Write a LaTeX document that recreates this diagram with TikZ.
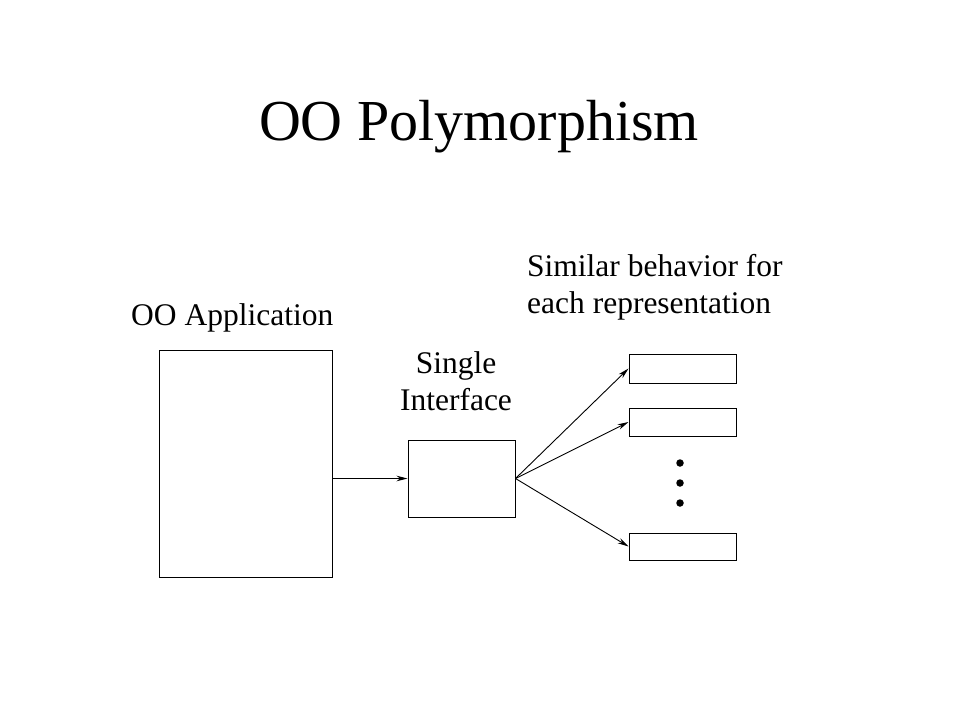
\documentclass[tikz,border=0pt]{standalone}
\usepackage{fontspec}
\setmainfont{Liberation Serif}
\usetikzlibrary{arrows.meta}
\begin{document}
\begin{tikzpicture}[x=1bp,y=-1bp,
  box/.style={draw,line width=1bp,inner sep=0pt},
  conn/.style={line width=0.9bp,-{Stealth[length=11bp,width=5.5bp]}},
  lbl/.style={inner sep=0pt,font=\fontsize{31.5bp}{37bp}\selectfont},
  dot/.style={circle,fill,inner sep=0pt,minimum size=7.5bp}]
\useasboundingbox[fill=white] (0,0) rectangle (960,720);
\node[inner sep=0pt,anchor=base,font=\fontsize{58bp}{60bp}\selectfont] (title) at (479,141) {OO Polymorphism};
\node[lbl,anchor=base west] (applbl) at (131,325) {OO Application};
\node[lbl,anchor=base,align=center] (ifl1) at (456,373) {Single};
\node[lbl,anchor=base,align=center] (ifl2) at (456,410) {Interface};
\node[lbl,anchor=base west] (sim1) at (527,276) {Similar behavior for};
\node[lbl,anchor=base west] (sim2) at (527,313) {each representation};
\path (159,350) coordinate (appnw) (332,577) coordinate (appse);
\draw[box] (appnw) rectangle (appse);
\node[box,minimum width=107bp,minimum height=77bp] (iface) at (461.5,478.5) {};
\node[box,minimum width=107bp,minimum height=29bp] (r1) at (682.5,368.5) {};
\node[box,minimum width=107bp,minimum height=28bp] (r2) at (682.5,422) {};
\node[box,minimum width=107bp,minimum height=27bp] (r3) at (682.5,546.5) {};
\coordinate (appout) at (332,478.5);
\draw[conn] (appout) -- (iface.west);
\draw[conn] (iface.east) -- (r1.west);
\draw[conn] (iface.east) -- (r2.west);
\draw[conn] (iface.east) -- (r3.west);
\node[dot] (d1) at (680,463) {};
\node[dot] (d2) at (680,483) {};
\node[dot] (d3) at (680,503) {};
\end{tikzpicture}
\end{document}
